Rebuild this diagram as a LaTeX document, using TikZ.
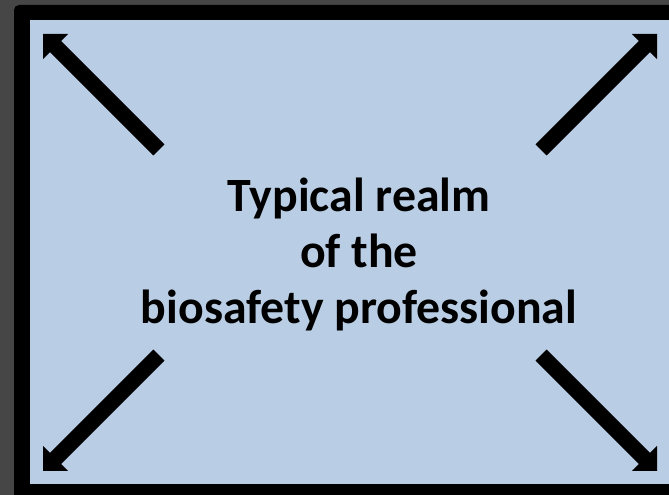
\documentclass[tikz,border=0pt]{standalone}
\usepackage{fontspec}
\setmainfont{Carlito}
\definecolor{bggray}{RGB}{70,70,70}
\definecolor{paleblue}{RGB}{185,205,229}
\tikzset{
  bigarrow/.pic={\fill[black] (0,0) -- (-17.7,-17.7) -- (-17.7,-7.8) -- (-164,-7.8) -- (-164,7.8) -- (-17.7,7.8) -- (-17.7,17.7) -- cycle;},
  labeltext/.style={font=\fontsize{47.8}{56}\selectfont\bfseries, inner sep=0pt, anchor=base}
}
\begin{document}
\begin{tikzpicture}[x=1pt,y=1pt]
\useasboundingbox (0,0) rectangle (669,495);
\clip (0,0) rectangle (669,495);
\fill[bggray] (0,0) rectangle (669,495);
\fill[black, rounded corners=5pt] (14,-20) rectangle (690,490);
\fill[paleblue] (30,11) rectangle (690,475);
\coordinate (tl) at (43,461);
\coordinate (tr) at (657,461);
\coordinate (bl) at (43,24);
\coordinate (br) at (657,24);
\pic[rotate=135] at (tl) {bigarrow};
\pic[rotate=45] at (tr) {bigarrow};
\pic[rotate=225] at (bl) {bigarrow};
\pic[rotate=-45] at (br) {bigarrow};
\node[labeltext] (l1) at (359,283) {Typical realm};
\node[labeltext] (l2) at (359,227) {of the};
\node[labeltext] (l3) at (359,171) {biosafety professional};
\end{tikzpicture}
\end{document}
